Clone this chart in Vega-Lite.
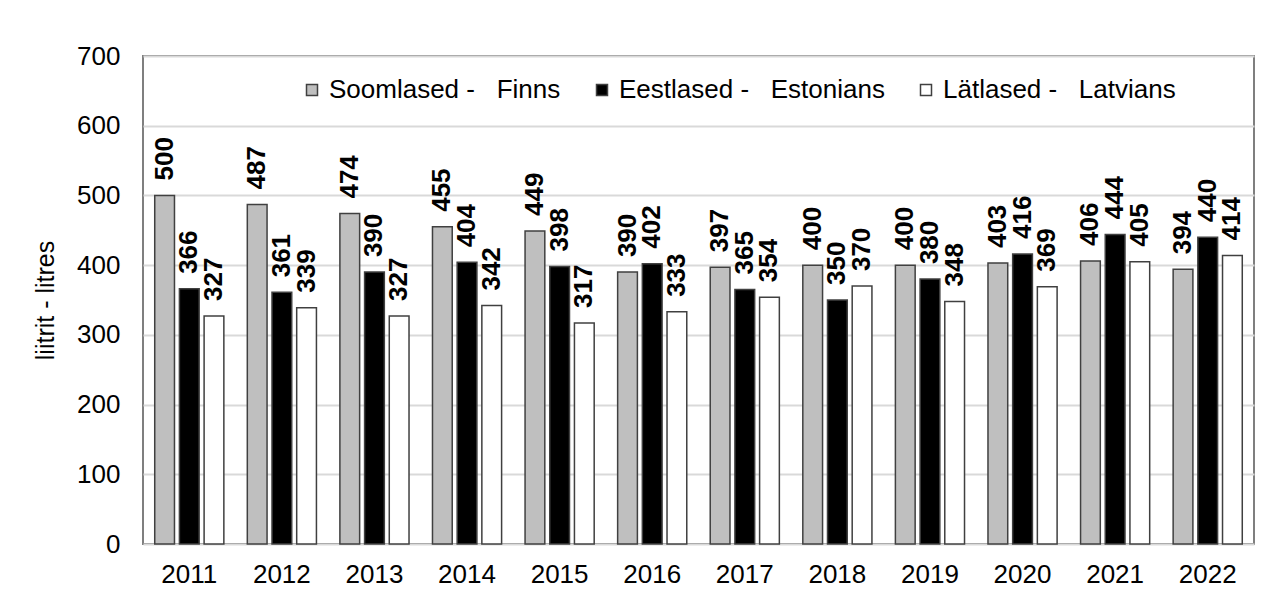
{
  "$schema": "https://vega.github.io/schema/vega-lite/v6.json",
  "autosize": {"type": "none"},
  "width": 1111,
  "height": 488,
  "padding": {"left": 143, "top": 56, "right": 25, "bottom": 63},
  "background": "white",
  "data": {
    "values": [
      {"year": "2011", "group": "Soomlased", "value": 500},
      {"year": "2011", "group": "Eestlased", "value": 366},
      {"year": "2011", "group": "Lätlased", "value": 327},
      {"year": "2012", "group": "Soomlased", "value": 487},
      {"year": "2012", "group": "Eestlased", "value": 361},
      {"year": "2012", "group": "Lätlased", "value": 339},
      {"year": "2013", "group": "Soomlased", "value": 474},
      {"year": "2013", "group": "Eestlased", "value": 390},
      {"year": "2013", "group": "Lätlased", "value": 327},
      {"year": "2014", "group": "Soomlased", "value": 455},
      {"year": "2014", "group": "Eestlased", "value": 404},
      {"year": "2014", "group": "Lätlased", "value": 342},
      {"year": "2015", "group": "Soomlased", "value": 449},
      {"year": "2015", "group": "Eestlased", "value": 398},
      {"year": "2015", "group": "Lätlased", "value": 317},
      {"year": "2016", "group": "Soomlased", "value": 390},
      {"year": "2016", "group": "Eestlased", "value": 402},
      {"year": "2016", "group": "Lätlased", "value": 333},
      {"year": "2017", "group": "Soomlased", "value": 397},
      {"year": "2017", "group": "Eestlased", "value": 365},
      {"year": "2017", "group": "Lätlased", "value": 354},
      {"year": "2018", "group": "Soomlased", "value": 400},
      {"year": "2018", "group": "Eestlased", "value": 350},
      {"year": "2018", "group": "Lätlased", "value": 370},
      {"year": "2019", "group": "Soomlased", "value": 400},
      {"year": "2019", "group": "Eestlased", "value": 380},
      {"year": "2019", "group": "Lätlased", "value": 348},
      {"year": "2020", "group": "Soomlased", "value": 403},
      {"year": "2020", "group": "Eestlased", "value": 416},
      {"year": "2020", "group": "Lätlased", "value": 369},
      {"year": "2021", "group": "Soomlased", "value": 406},
      {"year": "2021", "group": "Eestlased", "value": 444},
      {"year": "2021", "group": "Lätlased", "value": 405},
      {"year": "2022", "group": "Soomlased", "value": 394},
      {"year": "2022", "group": "Eestlased", "value": 440},
      {"year": "2022", "group": "Lätlased", "value": 414}
    ]
  },
  "encoding": {
    "x": {
      "field": "year",
      "type": "nominal",
      "scale": {"paddingInner": 0.2, "paddingOuter": 0.1},
      "axis": {
        "title": null,
        "labelAngle": 0,
        "labelFontSize": 26,
        "labelFont": "Liberation Sans",
        "labelColor": "#000000",
        "labelPadding": 17,
        "ticks": false,
        "domain": false,
        "grid": false
      }
    },
    "xOffset": {
      "field": "group",
      "type": "nominal",
      "sort": ["Soomlased", "Eestlased", "Lätlased"],
      "scale": {"paddingInner": 0.2, "paddingOuter": 0.1}
    },
    "y": {
      "field": "value",
      "type": "quantitative",
      "scale": {"domain": [0, 700], "nice": false},
      "axis": {
        "values": [0, 100, 200, 300, 400, 500, 600, 700],
        "title": "liitrit - litres",
        "titleFont": "Liberation Sans",
        "titleFontSize": 25,
        "titleFontWeight": "normal",
        "titleColor": "#000000",
        "titlePadding": 18,
        "labelFont": "Liberation Sans",
        "labelFontSize": 26,
        "labelColor": "#000000",
        "labelPadding": 23,
        "ticks": false,
        "domain": false,
        "grid": true,
        "gridColor": "#d9d9d9",
        "gridWidth": 2
      }
    }
  },
  "layer": [
    {
      "mark": {"type": "bar", "stroke": "#404040", "strokeWidth": 1.5},
      "encoding": {
        "color": {
          "field": "group",
          "type": "nominal",
          "sort": ["Soomlased", "Eestlased", "Lätlased"],
          "scale": {
            "domain": ["Soomlased", "Eestlased", "Lätlased"],
            "range": ["#bfbfbf", "#000000", "#ffffff"]
          },
          "legend": {
            "title": null,
            "orient": "none",
            "direction": "horizontal",
            "legendX": 156,
            "legendY": 21,
            "symbolType": "square",
            "symbolSize": 121,
            "symbolStrokeColor": "#404040",
            "symbolStrokeWidth": 1.5,
            "symbolOpacity": 1,
            "labelFont": "Liberation Sans",
            "labelFontSize": 26,
            "labelColor": "#000000",
            "labelOffset": 4,
            "labelLimit": 400,
            "columnPadding": 28,
            "labelExpr": "datum.label == 'Soomlased' ? 'Soomlased -\u00a0\u00a0\u00a0Finns' : datum.label == 'Eestlased' ? 'Eestlased -\u00a0\u00a0\u00a0Estonians' : 'Lätlased -\u00a0\u00a0\u00a0Latvians'"
          }
        }
      }
    },
    {
      "mark": {
        "type": "text",
        "angle": 270,
        "align": "left",
        "baseline": "middle",
        "dx": 15,
        "font": "Liberation Sans",
        "fontSize": 26,
        "fontWeight": "bold",
        "color": "#000000"
      },
      "encoding": {
        "text": {"field": "value", "type": "quantitative"}
      }
    }
  ],
  "config": {
    "view": {"stroke": "#7f7f7f", "strokeWidth": 2}
  }
}
